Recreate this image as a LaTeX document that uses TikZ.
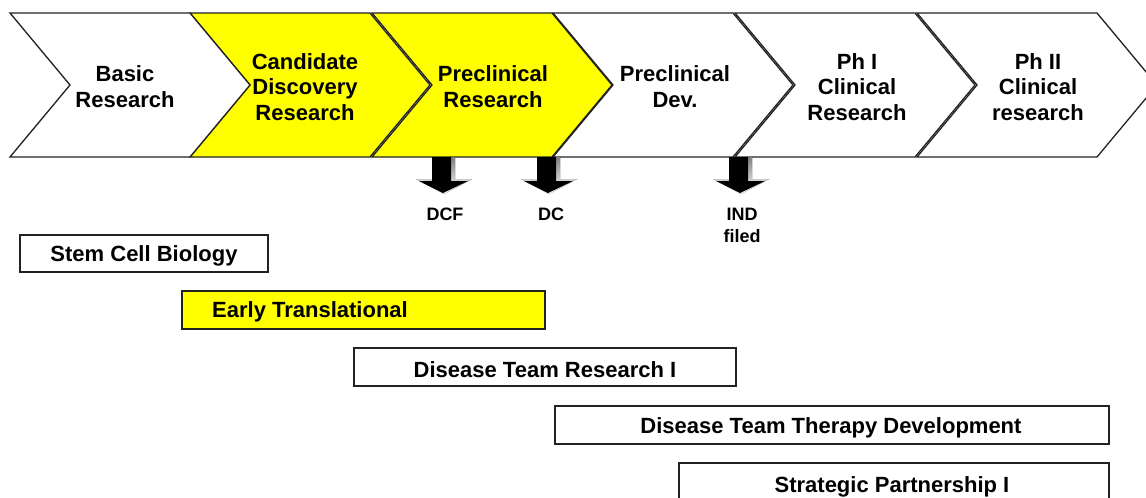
\documentclass[tikz,border=0pt]{standalone}
\usepackage{fontspec}
\setmainfont{Liberation Sans}
\definecolor{hiyellow}{HTML}{FFFF00}
\definecolor{edge}{HTML}{222222}
\definecolor{shade}{HTML}{A8A8A8}
\tikzset{
  chev/.style={draw=edge, line width=1.3pt, line join=miter},
  chevtext/.style={align=center, font=\fontsize{22}{25.5}\selectfont\bfseries, inner sep=0pt},
  bar/.style={draw=edge, line width=1.4pt, inner sep=0pt, font=\fontsize{22}{24}\selectfont\bfseries},
  mile/.style={align=center, font=\fontsize{18}{22}\selectfont\bfseries, inner sep=0pt},
}
\newcommand{\chevshape}[3]{% left x, fill, name
  \path[chev, fill=#2] (#1,13) -- ({#1+180},13) -- ({#1+240},85) -- ({#1+180},157) -- (#1,157) -- ({#1+60},85) -- cycle;
}
\newcommand{\milearrow}[1]{% center x
  \fill[shade] ({#1-10},157) -- ({#1+12},157) -- ({#1+12},179) -- ({#1+29},179) -- ({#1+1},194) -- ({#1-27},179) -- ({#1-10},179) -- cycle;
  \fill[black] ({#1-11},157) -- ({#1+8},157) -- ({#1+8},181) -- ({#1+25},181) -- ({#1},193) -- ({#1-24},181) -- ({#1-11},181) -- cycle;
}
\begin{document}
\begin{tikzpicture}[x=1pt,y=-1pt]
\useasboundingbox (0,0) rectangle (1146,498);
\clip (0,0) rectangle (1146,498);
\fill[white] (0,0) rectangle (1146,498);
% chevrons
\chevshape{917}{white}{c6}
\chevshape{735}{white}{c5}
\chevshape{553}{white}{c4}
\chevshape{372}{hiyellow}{c3}
\chevshape{190}{hiyellow}{c2}
\chevshape{10}{white}{c1}
\node[chevtext] (t1) at (125,86.5) {Basic\\Research};
\node[chevtext] (t2) at (305,87) {Candidate\\Discovery\\Research};
\node[chevtext] (t3) at (493,86.5) {Preclinical\\Research};
\node[chevtext] (t4) at (675,86.5) {Preclinical\\Dev.};
\node[chevtext] (t5) at (857,87) {Ph I\\Clinical\\Research};
\node[chevtext] (t6) at (1038,87) {Ph II\\Clinical\\research};
% milestone arrows
\milearrow{443}
\milearrow{548}
\milearrow{740}
\node[mile] (dcf) at (445,214) {DCF};
\node[mile] (dc) at (551,214) {DC};
\node[mile] (ind) at (742,225) {IND\\filed};
% program bars
\draw[bar, fill=white] (20,235) rectangle (268,272);
\node[bar, draw=none] (b1) at (144,256) {Stem Cell Biology};
\draw[bar, fill=hiyellow] (182,291) rectangle (545,329);
\node[bar, draw=none] (b2) at (310,312) {Early Translational};
\draw[bar, fill=white] (354,348) rectangle (736,386);
\node[bar, draw=none] (b3) at (545,370) {Disease Team Research I};
\draw[bar, fill=white] (555,406) rectangle (1109,444);
\node[bar, draw=none] (b4) at (831,428) {Disease Team Therapy Development};
\draw[bar, fill=white] (679,463) rectangle (1109,520);
\node[bar, draw=none] (b5) at (892,487) {Strategic Partnership I};
\end{tikzpicture}
\end{document}
